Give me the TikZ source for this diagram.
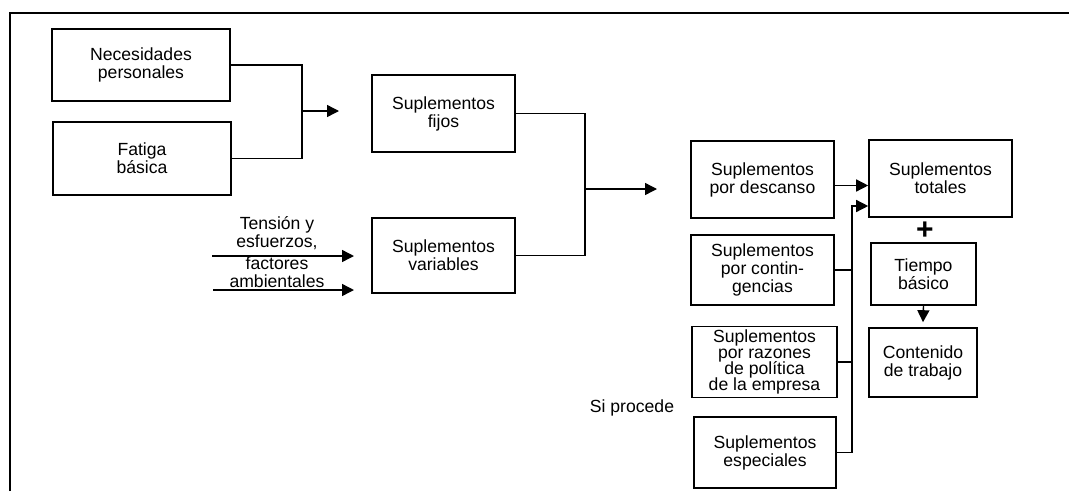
\documentclass[tikz,border=0pt]{standalone}
\usepackage{fontspec}
\setmainfont{Liberation Sans}
\usetikzlibrary{arrows.meta}
% fixed line pitch, even where accents rise above the line
\newcommand\fixedpitch{\lineskiplimit=-20pt\relax}
\begin{document}
\begin{tikzpicture}[x=1pt,y=-1pt,
  box/.style={draw,line width=1.6pt,align=center,inner sep=0pt,
    font=\fontsize{17.6}{18}\selectfont},
  lbl/.style={align=center,inner sep=0pt,font=\fontsize{17.6}{17.5}\selectfont},
  link/.style={line width=1.4pt},
  arr/.style={line width=1.4pt,-{Triangle[length=12pt,width=12pt]}},
  frame/.style={line width=2pt}]
\useasboundingbox (0,0) rectangle (1069,491);
% outer frame (top and left edges only)
\draw[frame] (10,491) -- (10,13) -- (1069,13);

% left column
\node[box,minimum width=178pt,minimum height=72pt] (nec) at (141,65) {Necesidades\\personales};
\node[box,minimum width=178pt,minimum height=73pt] (fat) at (142,158.5) {Fatiga\\básica};

% middle column
\node[box,minimum width=143pt,minimum height=77pt] (fijos) at (443.5,113.5) {Suplementos\\fijos};
\node[box,minimum width=143pt,minimum height=75pt] (var) at (443.5,255.5) {Suplementos\\variables};

\node[lbl] (tens) at (277,233) {Tensión y\\esfuerzos,};
\node[lbl] (fact) at (277,272) {factores\\ambientales};

% right-hand boxes
\node[box,minimum width=143pt,minimum height=77pt] (desc) at (762.5,179.5) {Suplementos\\por descanso};
\node[box,minimum width=143pt,minimum height=70pt] (cont) at (762.5,270) {Suplementos\\por contin-\\gencias};
\node[box,minimum width=145pt,minimum height=71pt,
  font=\fontsize{17.6}{16.2}\selectfont\fixedpitch] (raz) at (764.5,362) {Suplementos\\por razones\\de política\\de la empresa};
\node[box,minimum width=142pt,minimum height=71pt] (esp) at (765,452.5) {Suplementos\\especiales};
\node[lbl] (si) at (632,408) {Si procede};

\node[box,minimum width=143pt,minimum height=77pt] (tot) at (940.5,178.5) {Suplementos\\totales};
\node[inner sep=0pt,font=\fontsize{30}{30}\selectfont\bfseries] (plus) at (925,231) {+};
\node[box,minimum width=105pt,minimum height=62pt] (tb) at (923.5,274) {Tiempo\\básico};
\node[box,minimum width=108pt,minimum height=69pt] (ct) at (923,362.5) {Contenido\\de trabajo};

% junction: personal needs + basic fatigue
\coordinate (j1) at (302,111);
\coordinate (e1) at (339,111);
\draw[link] (nec.east) -| (j1) |- (fat.east);
\draw[arr] (j1) -- (e1);

% inputs to variable allowances
\coordinate (s1) at (212,256);
\coordinate (t1) at (354,256);
\coordinate (s2) at (213,290);
\coordinate (t2) at (354,290);
\draw[arr] (s1) -- (t1);
\draw[arr] (s2) -- (t2);

% junction: fixed + variable allowances
\coordinate (j2) at (585,189);
\coordinate (e2) at (657,189);
\draw[link] (fijos.east) -| (j2) |- (var.east);
\draw[arr] (j2) -- (e2);

% rest allowances into total
\draw[arr] ([yshift=-6pt]desc.east) -- ([yshift=-6pt]desc.east -| tot.west);

% bus for the remaining allowances
\coordinate (bus) at (852,206);
\draw[arr] (esp.east) -| (bus) -- (bus -| tot.west);
\draw[link] (cont.east) -- (cont.east -| bus);
\draw[link] (raz.east) -- (raz.east -| bus);

% basic time to work content
\draw[arr] (tb.south) -- ([yshift=5pt]ct.north);
\end{tikzpicture}
\end{document}
